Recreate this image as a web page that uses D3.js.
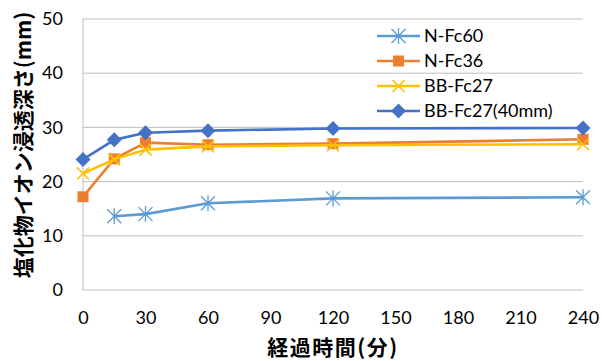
<!DOCTYPE html>
<html>
<head>
<meta charset="utf-8">
<script src="https://cdn.jsdelivr.net/npm/d3@7"></script>
<style>
  body { margin: 0; background: #fff; }
  text { font-family: Lato, "Noto Sans", sans-serif; fill: #000; }
  .cjk { font-family: "Noto Sans CJK JP", sans-serif; font-weight: bold; }
</style>
</head>
<body>
<div id="chart"></div>
<script>
// chart values
var times = [0, 15, 30, 60, 120, 240];
var seriesNames = ['N-Fc60', 'N-Fc36', 'BB-Fc27', 'BB-Fc27(40mm)'];
var nFc60 = [null, 13.6, 14.0, 16.0, 16.9, 17.1];
var nFc36 = [17.2, 24.2, 27.2, 26.8, 27.0, 27.8];
var bbFc27 = [21.5, 24.1, 25.9, 26.5, 26.7, 26.9];
var bbFc27_40 = [24.1, 27.7, 29.0, 29.4, 29.8, 29.9];
var xTicks = [0, 30, 60, 90, 120, 150, 180, 210, 240];
var yTicks = [0, 10, 20, 30, 40, 50];

var colors = ['#5B9BD5', '#ED7D31', '#FFC000', '#4472C4'];
var markers = ['asterisk', 'square', 'cross', 'diamond'];
var values = [nFc60, nFc36, bbFc27, bbFc27_40];

var W = 602, H = 361;
var m = { top: 19, right: 19, bottom: 71, left: 83 };

var svg = d3.select('#chart').append('svg')
  .attr('width', W)
  .attr('height', H);

var x = d3.scaleLinear().domain([0, 240]).range([m.left, W - m.right]);
var y = d3.scaleLinear().domain([0, 50]).range([H - m.bottom, m.top]);

// gridlines
svg.append('g')
  .selectAll('line')
  .data(yTicks)
  .enter().append('line')
  .attr('x1', x(0)).attr('x2', x(240))
  .attr('y1', function(d) { return y(d); })
  .attr('y2', function(d) { return y(d); })
  .attr('stroke', '#bfbfbf')
  .attr('stroke-width', 1);

// left axis line
svg.append('line')
  .attr('x1', x(0)).attr('x2', x(0))
  .attr('y1', y(0)).attr('y2', y(50))
  .attr('stroke', '#bfbfbf');

// y axis labels
var yAxis = d3.axisLeft(y).tickValues(yTicks).tickSize(0).tickPadding(20);
var gy = svg.append('g').attr('transform', 'translate(' + x(0) + ',0)').call(yAxis);
gy.select('.domain').remove();
gy.selectAll('text').style('font-size', '18px').style('font-family', 'Lato, sans-serif');

// x axis labels
var xAxis = d3.axisBottom(x).tickValues(xTicks).tickSize(0).tickPadding(21);
var gx = svg.append('g').attr('transform', 'translate(0,' + y(0) + ')').call(xAxis);
gx.select('.domain').remove();
gx.selectAll('text').style('font-size', '18px').style('font-family', 'Lato, sans-serif');

// axis titles
svg.append('text')
  .attr('class', 'cjk')
  .attr('x', 333).attr('y', 355)
  .attr('text-anchor', 'middle')
  .style('font-size', '21px')
  .style('letter-spacing', '1.5px')
  .text('経過時間(分)');

svg.append('text')
  .attr('class', 'cjk')
  .attr('transform', 'translate(31,' + 145 + ') rotate(-90)')
  .attr('text-anchor', 'middle')
  .style('font-size', '21px')
  .text('塩化物イオン浸透深さ(mm)');

function drawMarker(g, type, color) {
  if (type === 'asterisk') {
    var s = 7;
    g.append('path')
      .attr('d', 'M' + (-s) + ',' + (-s) + 'L' + s + ',' + s + 'M' + (-s) + ',' + s + 'L' + s + ',' + (-s) + 'M0,' + (-s - 1) + 'L0,' + (s + 1))
      .attr('stroke', color).attr('stroke-width', 1.3).attr('fill', 'none');
  } else if (type === 'square') {
    g.append('rect')
      .attr('x', -5.5).attr('y', -5.5).attr('width', 11).attr('height', 11)
      .attr('fill', color);
  } else if (type === 'cross') {
    var c = 6;
    g.append('path')
      .attr('d', 'M' + (-c) + ',' + (-c) + 'L' + c + ',' + c + 'M' + (-c) + ',' + c + 'L' + c + ',' + (-c))
      .attr('stroke', color).attr('stroke-width', 1.6).attr('fill', 'none');
  } else if (type === 'diamond') {
    var d = 7.5;
    g.append('path')
      .attr('d', 'M0,' + (-d) + 'L' + d + ',0L0,' + d + 'L' + (-d) + ',0Z')
      .attr('fill', color);
  }
}

var line = d3.line()
  .defined(function(d) { return d.v !== null; })
  .x(function(d) { return x(d.t); })
  .y(function(d) { return y(d.v); });

values.forEach(function(vals, i) {
  var pts = times.map(function(t, j) { return { t: t, v: vals[j] }; });
  var g = svg.append('g');
  g.append('path')
    .datum(pts)
    .attr('d', line)
    .attr('fill', 'none')
    .attr('stroke', colors[i])
    .attr('stroke-width', 2.6)
    .attr('stroke-linejoin', 'round');
  pts.filter(function(p) { return p.v !== null; }).forEach(function(p) {
    var mg = g.append('g').attr('transform', 'translate(' + x(p.t) + ',' + y(p.v) + ')');
    drawMarker(mg, markers[i], colors[i]);
  });
});

// legend
var legend = svg.append('g').attr('transform', 'translate(377,36)');
seriesNames.forEach(function(name, i) {
  var row = legend.append('g').attr('transform', 'translate(0,' + (i * 25) + ')');
  row.append('line')
    .attr('x1', 0).attr('x2', 43).attr('y1', 0).attr('y2', 0)
    .attr('stroke', colors[i]).attr('stroke-width', 2.6);
  var mg = row.append('g').attr('transform', 'translate(21.5,0)');
  drawMarker(mg, markers[i], colors[i]);
  row.append('text')
    .attr('x', 47).attr('y', 0).attr('dy', '0.35em')
    .style('font-size', '18px')
    .text(name);
});
</script>
</body>
</html>
